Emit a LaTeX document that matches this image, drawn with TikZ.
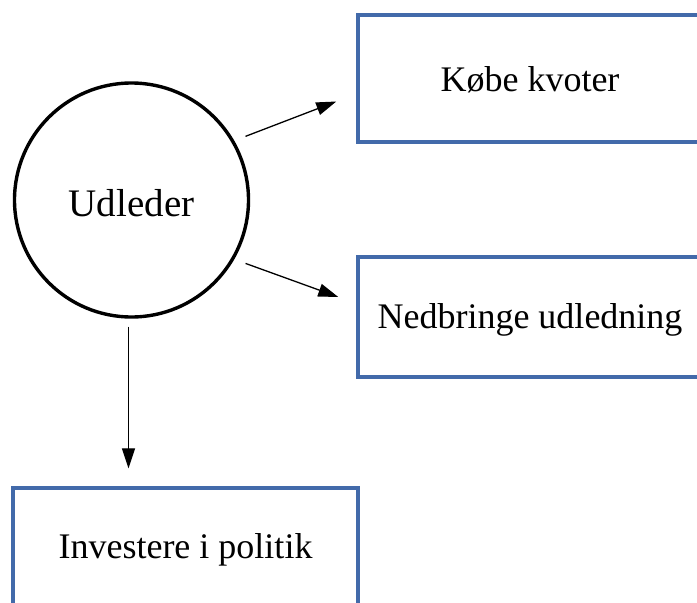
\documentclass[tikz,border=0pt]{standalone}
\usepackage{fontspec}
\setmainfont{Liberation Serif}
\usetikzlibrary{arrows.meta}
\definecolor{boxblue}{RGB}{66,106,170}
\tikzset{
  actbox/.style={draw=boxblue, line width=3.4pt, rectangle, inner sep=0pt},
  boxtext/.style={inner sep=0pt, font=\fontsize{36}{40}\selectfont},
  agent/.style={draw=black, line width=3.4pt, circle, inner sep=0pt,
    minimum size=234pt, font=\fontsize{39}{44}\selectfont},
  arr/.style={line width=1.3pt, -{Triangle[length=20pt,width=13pt]}}
}
\begin{document}
\begin{tikzpicture}[x=1pt,y=-1pt]
\useasboundingbox (0,0) rectangle (697,603);
\clip (0,0) rectangle (697,603);
\node[agent] (udleder) at (131.5,200) {};
\node[boxtext, font=\fontsize{39}{44}\selectfont] (udledertext) at (131.5,203) {Udleder};
\node[actbox, minimum width=344pt, minimum height=127pt] (kvoter) at (530,78.5) {};
\node[boxtext] (kvotertext) at (530,80) {Købe kvoter};
\node[actbox, minimum width=344pt, minimum height=120pt] (nedbringe) at (530,317) {};
\node[boxtext] (nedbringetext) at (530,320) {Nedbringe udledning};
\node[actbox, minimum width=345pt, minimum height=127pt] (politik) at (185.5,551.5) {};
\node[boxtext] (politiktext) at (185.5,550) {Investere i politik};
\draw[arr, shorten <=12pt] (udleder.30) -- ([xshift=-20pt,yshift=-23pt]kvoter.west);
\draw[arr, shorten <=12pt] (udleder.-30) -- ([xshift=-18pt,yshift=20pt]nedbringe.west);
\draw[arr, shorten <=8pt, shorten >=18pt] ([xshift=-3pt]udleder.south) -- ([xshift=-3pt]udleder.south |- politik.north);
\end{tikzpicture}
\end{document}
